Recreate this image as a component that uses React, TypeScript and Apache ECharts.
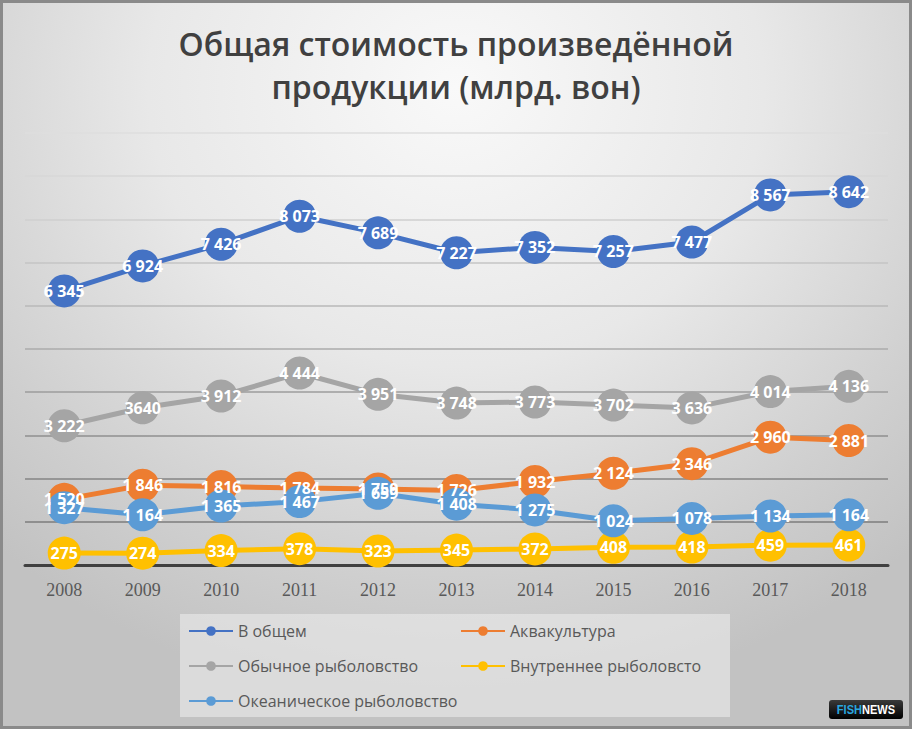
import * as echarts from "echarts";
import { useEffect, useRef } from "react";

// годы и значения (млрд. вон)
const years = ["2008", "2009", "2010", "2011", "2012", "2013", "2014", "2015", "2016", "2017", "2018"];
const total = [6345, 6924, 7426, 8073, 7689, 7227, 7352, 7257, 7477, 8567, 8642];
const aquaculture = [1520, 1846, 1816, 1784, 1759, 1726, 1932, 2124, 2346, 2960, 2881];
const conventional = [3222, 3640, 3912, 4444, 3951, 3748, 3773, 3702, 3636, 4014, 4136];
const inland = [275, 274, 334, 378, 323, 345, 372, 408, 418, 459, 461];
const oceanic = [1327, 1164, 1365, 1467, 1659, 1408, 1275, 1024, 1078, 1134, 1164];
// в оригинале эта подпись без пробела
const unspaced = [3640];

const gridColors = [
  "#404040", "#7c7c7c", "#848484", "#8f8f8f", "#9c9c9c", "#ababab",
  "#b9b9b9", "#c5c5c5", "#cfcfcf", "#d7d7d7", "#dedede",
];

const fmt = (v: number) =>
  v >= 1000 && !unspaced.includes(v)
    ? `${Math.floor(v / 1000)} ${String(v % 1000).padStart(3, "0")}`
    : String(v);

const mkSeries = (name: string, data: number[], color: string) => ({
  name,
  type: "line",
  data,
  symbol: "circle",
  symbolSize: 33,
  lineStyle: { width: 5, color },
  itemStyle: { color },
  label: {
    show: true,
    position: "inside",
    color: "#fff",
    fontWeight: "bold",
    fontSize: 16,
    fontFamily: "Open Sans",
    formatter: (p: any) => fmt(p.value),
  },
});

export default () => {
  const ref = useRef<HTMLDivElement>(null);
  useEffect(() => {
    if (!ref.current) return;
    const chart = echarts.init(ref.current, null, { renderer: "svg" });
    const legendText = { color: "#595959", fontSize: 16, fontFamily: "Open Sans", lineHeight: 16 };
    chart.setOption({
      animation: false,
      title: {
        text: "Общая стоимость произведённой\nпродукции (млрд. вон)",
        left: "center",
        top: 17,
        textStyle: {
          fontFamily: "Open Sans",
          fontSize: 32,
          fontWeight: 600,
          lineHeight: 43,
          color: "#404040",
        },
      },
      grid: { left: 25, right: 24, top: 133, bottom: 164 },
      xAxis: {
        type: "category",
        data: years,
        axisLine: { lineStyle: { color: "#404040", width: 3 } },
        axisTick: { show: false },
        axisLabel: {
          color: "#595959",
          fontSize: 18,
          fontFamily: "Liberation Serif",
          margin: 16,
        },
      },
      yAxis: {
        type: "value",
        min: 0,
        max: 10000,
        interval: 1000,
        axisLabel: { show: false },
        axisLine: { show: false },
        axisTick: { show: false },
        splitLine: { lineStyle: { color: gridColors, width: 1.5 } },
      },
      legend: [
        {
          orient: "vertical",
          left: 183,
          top: 618,
          itemWidth: 44,
          itemHeight: 12,
          itemGap: 19,
          textStyle: legendText,
          data: ["В общем", "Обычное рыболовство", "Океаническое рыболовство"],
        },
        {
          orient: "vertical",
          left: 455,
          top: 618,
          itemWidth: 44,
          itemHeight: 12,
          itemGap: 19,
          textStyle: legendText,
          data: ["Аквакультура", "Внутреннее рыболовсто"],
        },
      ],
      graphic: [
        {
          type: "rect",
          z: -10,
          shape: { x: 180, y: 614, width: 550, height: 103 },
          style: { fill: "rgba(235,235,235,0.6)" },
        },
        {
          type: "rect",
          z: 100,
          shape: { x: 1.5, y: 1.5, width: 909, height: 726 },
          style: { fill: "none", stroke: "#8a8a8a", lineWidth: 3 },
        },
        {
          type: "group",
          x: 829,
          y: 700,
          children: [
            {
              type: "rect",
              shape: { x: 0, y: 0, width: 74, height: 19, r: 3 },
              style: {
                fill: new echarts.graphic.LinearGradient(0, 0, 0, 1, [
                  { offset: 0, color: "#3a3a3a" },
                  { offset: 1, color: "#000" },
                ]),
              },
            },
            {
              type: "text",
              x: 37,
              y: 10,
              scaleX: 0.85,
              style: {
                text: "{a|FISH}{b|NEWS}",
                align: "center",
                verticalAlign: "middle",
                rich: {
                  a: { fill: "#29a8e0", fontSize: 13, fontWeight: "bold", fontFamily: "Liberation Sans" },
                  b: { fill: "#fff", fontSize: 13, fontWeight: "bold", fontFamily: "Liberation Sans" },
                },
              },
            },
          ],
        },
      ],
      series: [
        mkSeries("В общем", total, "#4472C4"),
        mkSeries("Аквакультура", aquaculture, "#ED7D31"),
        mkSeries("Обычное рыболовство", conventional, "#A5A5A5"),
        mkSeries("Внутреннее рыболовсто", inland, "#FFC000"),
        mkSeries("Океаническое рыболовство", oceanic, "#5B9BD5"),
      ],
    });
    return () => chart.dispose();
  }, []);

  return (
    <div
      style={{
        position: "absolute",
        left: 0,
        top: 0,
        width: 912,
        height: 729,
        background:
          "radial-gradient(ellipse 75% 85% at 50% 12%, #f9f9f9 0%, #e8e8e8 45%, #cfcfcf 80%, #c2c2c2 100%)",
      }}
    >
      <div ref={ref} style={{ width: 912, height: 729 }}></div>
    </div>
  );
};
